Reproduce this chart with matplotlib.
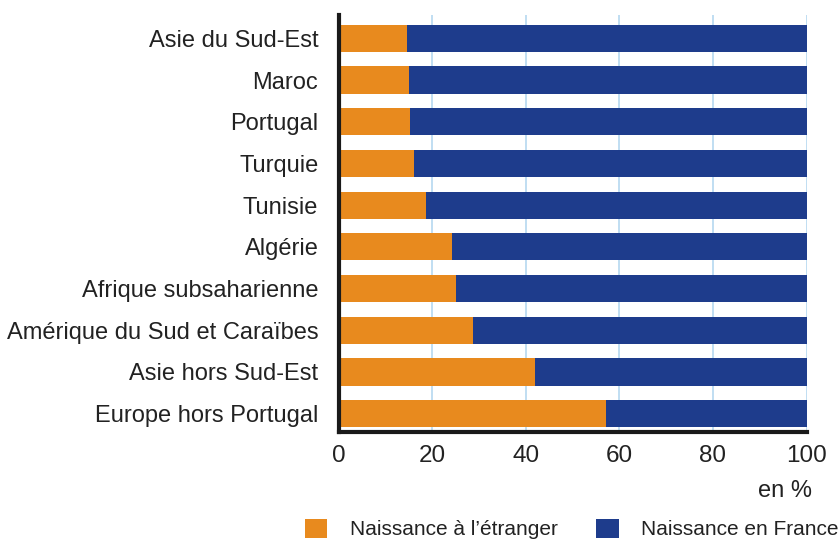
import matplotlib
matplotlib.use("Agg")
import matplotlib.pyplot as plt
from matplotlib.patches import Patch
from matplotlib import font_manager

categories = ["Asie du Sud-Est", "Maroc", "Portugal", "Turquie", "Tunisie",
              "Algérie", "Afrique subsaharienne", "Amérique du Sud et Caraïbes",
              "Asie hors Sud-Est", "Europe hors Portugal"]
ne_etranger = [14.7, 15.0, 15.3, 16.1, 18.6, 24.3, 25.1, 28.7, 41.9, 57.2]
ne_france = [100 - v for v in ne_etranger]
series_labels = ["Naissance à l\u2019étranger", "Naissance en France"]
xticks = [0, 20, 40, 60, 80, 100]

available = {f.name for f in font_manager.fontManager.ttflist}
fam = "Liberation Sans Narrow" if "Liberation Sans Narrow" in available else "Liberation Sans"
plt.rcParams['font.family'] = [fam, 'DejaVu Sans']

orange = "#E88A1E"
blue = "#1E3C8C"
grid_c = "#B5D8F0"
text_c = "#222222"

fig = plt.figure(figsize=(8.38, 5.43), dpi=100)
ax = fig.add_axes([338.5/838, 1-432/543, (806.5-338.5)/838, (432-15)/543])

y = list(range(len(categories)))
ax.barh(y, ne_etranger, height=0.65, color=orange, zorder=2)
ax.barh(y, ne_france, left=ne_etranger, height=0.65, color=blue, zorder=2)

ax.set_xlim(0, 100)
ax.set_ylim(len(categories) - 1 + 0.44, -0.56)
ax.set_yticks(y)
ax.set_yticklabels(categories, fontsize=17, color=text_c)
ax.set_xticks(xticks)
ax.set_xticklabels([str(v) for v in xticks], fontsize=17.5, color=text_c)
ax.tick_params(axis='y', length=0, pad=14.5)
ax.tick_params(axis='x', length=0, pad=9)
ax.xaxis.grid(True, color=grid_c, linewidth=1.2, zorder=0)
ax.set_axisbelow(True)
for s in ["top", "right"]:
    ax.spines[s].set_visible(False)
ax.spines["left"].set_linewidth(3)
ax.spines["bottom"].set_linewidth(3)
ax.spines["left"].set_color("#1a1a1a")
ax.spines["bottom"].set_color("#1a1a1a")

fig.text(812/838, 1-491/543, "en %", fontsize=17, color=text_c, ha="right", va="center")

handles = [Patch(facecolor=orange), Patch(facecolor=blue)]
fig.legend(handles, series_labels, loc="center left", bbox_to_anchor=(305/838, 1-529/543),
           ncol=2, frameon=False, fontsize=15, handlelength=1.06, handleheight=1.06,
           handletextpad=1.1, columnspacing=1.85, labelcolor=text_c, borderaxespad=0, borderpad=0)

fig.savefig("out.png", dpi=100)
